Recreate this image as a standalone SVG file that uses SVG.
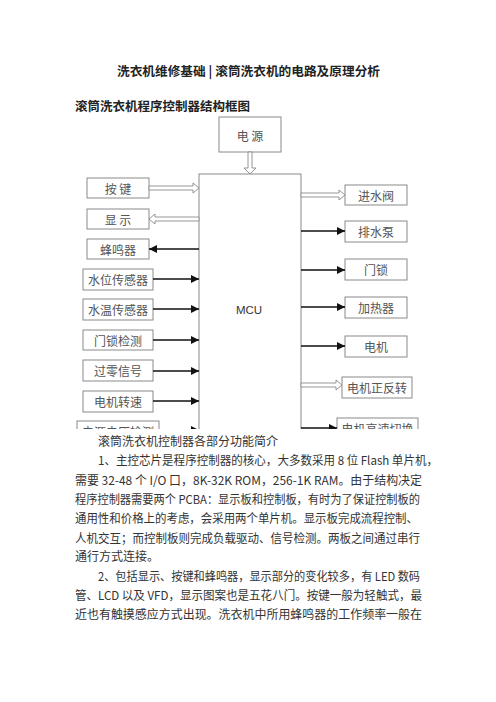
<svg xmlns="http://www.w3.org/2000/svg" width="496" height="702" viewBox="0 0 496 702">
<defs>
<style>
.bx{fill:#fff;stroke:#8a8a8a;stroke-width:1}
.lb{font-family:"Noto Sans CJK SC","Liberation Serif",serif;font-size:12px;fill:#555;text-anchor:middle;dominant-baseline:central}
.mcu{font-family:"Liberation Sans","Noto Sans CJK SC",sans-serif;font-size:11.5px;fill:#333;text-anchor:middle;dominant-baseline:central}
.ho{fill:#fff;stroke:#8a8a8a;stroke-width:0.9}
.so{stroke:#111;stroke-width:1.3;fill:none}
.tt{font-family:"Noto Sans CJK SC","Liberation Sans",sans-serif;font-weight:bold;fill:#222;dominant-baseline:central}
.bd{font-family:"Noto Sans CJK SC","Liberation Sans",sans-serif;font-size:12px;fill:#333;dominant-baseline:central}
</style>
<marker id="ah" viewBox="0 0 10 10" refX="10" refY="5" markerWidth="9" markerHeight="8" markerUnits="userSpaceOnUse" orient="auto"><path d="M0,0L10,5L0,10z" fill="#111"/></marker>
<clipPath id="cut"><rect x="0" y="0" width="496" height="429"/></clipPath>
</defs>
<rect width="496" height="702" fill="#fff"/>
<text class="tt" x="117" y="70" font-size="12.5" textLength="263" lengthAdjust="spacingAndGlyphs">洗衣机维修基础 | 滚筒洗衣机的电路及原理分析</text>
<text class="tt" x="75" y="105" font-size="12.5" textLength="175" lengthAdjust="spacingAndGlyphs">滚筒洗衣机程序控制器结构框图</text>
<g clip-path="url(#cut)">
<g id="n-power"><rect class="bx" x="219" y="117" width="62" height="35"/><text class="lb" x="250" y="135">电 源</text></g>
<g id="n-mcu"><rect class="bx" x="199" y="174" width="102" height="280"/><text class="mcu" x="249" y="310">MCU</text></g>
<g id="n-key"><rect class="bx" x="87" y="178" width="62" height="20"/><text class="lb" x="118" y="188">按 键</text></g>
<g id="n-disp"><rect class="bx" x="87" y="209" width="62" height="20"/><text class="lb" x="118" y="219">显 示</text></g>
<g id="n-buzz"><rect class="bx" x="87" y="239" width="62" height="20"/><text class="lb" x="118" y="249">蜂鸣器</text></g>
<g id="n-wlevel"><rect class="bx" x="83" y="269" width="70" height="21"/><text class="lb" x="118" y="279.5">水位传感器</text></g>
<g id="n-wtemp"><rect class="bx" x="83" y="299" width="70" height="21"/><text class="lb" x="118" y="309.5">水温传感器</text></g>
<g id="n-lockdet"><rect class="bx" x="83" y="330" width="70" height="20"/><text class="lb" x="118" y="340">门锁检测</text></g>
<g id="n-zero"><rect class="bx" x="83" y="360" width="70" height="21"/><text class="lb" x="118" y="370.5">过零信号</text></g>
<g id="n-speed"><rect class="bx" x="83" y="391" width="70" height="21"/><text class="lb" x="118" y="401.5">电机转速</text></g>
<g id="n-volt"><rect class="bx" x="77" y="421" width="82" height="21"/><text class="lb" x="118" y="431.5">电源电压检测</text></g>
<g id="n-inlet"><rect class="bx" x="345" y="185" width="62" height="20"/><text class="lb" x="376" y="195">进水阀</text></g>
<g id="n-pump"><rect class="bx" x="345" y="221" width="62" height="21"/><text class="lb" x="376" y="231.5">排水泵</text></g>
<g id="n-lock"><rect class="bx" x="345" y="259" width="62" height="21"/><text class="lb" x="376" y="269.5">门锁</text></g>
<g id="n-heater"><rect class="bx" x="345" y="297" width="62" height="21"/><text class="lb" x="376" y="307.5">加热器</text></g>
<g id="n-motor"><rect class="bx" x="345" y="336" width="62" height="21"/><text class="lb" x="376" y="346.5">电机</text></g>
<g id="n-dir"><rect class="bx" x="342" y="377" width="70" height="21"/><text class="lb" x="377" y="387.5">电机正反转</text></g>
<g id="n-high"><rect class="bx" x="337" y="418" width="81" height="21"/><text class="lb" x="377.5" y="428.5">电机高速切换</text></g>
<g id="connectors">
<polygon class="ho" points="248,152 252,152 252,168 256,168 250,174 244,168 248,168"/>
<polygon class="ho" points="149,186 193,186 193,183 199,188 193,193 193,190 149,190"/>
<polygon class="ho" points="199,217 155,217 155,214 149,219 155,224 155,221 199,221"/>
<polygon class="ho" points="301,193 339,193 339,190 345,195 339,200 339,197 301,197"/>
<polygon class="ho" points="301,383 336,383 336,380 342,385 336,390 336,387 301,387"/>
<line class="so" x1="199" y1="249" x2="149" y2="249" marker-end="url(#ah)"/>
<line class="so" x1="153" y1="279" x2="199" y2="279" marker-end="url(#ah)"/>
<line class="so" x1="153" y1="309" x2="199" y2="309" marker-end="url(#ah)"/>
<line class="so" x1="153" y1="340" x2="199" y2="340" marker-end="url(#ah)"/>
<line class="so" x1="153" y1="371" x2="199" y2="371" marker-end="url(#ah)"/>
<line class="so" x1="153" y1="401" x2="199" y2="401" marker-end="url(#ah)"/>
<line class="so" x1="159" y1="430" x2="199" y2="430" marker-end="url(#ah)"/>
<line class="so" x1="301" y1="231" x2="345" y2="231" marker-end="url(#ah)"/>
<line class="so" x1="301" y1="270" x2="345" y2="270" marker-end="url(#ah)"/>
<line class="so" x1="301" y1="307" x2="345" y2="307" marker-end="url(#ah)"/>
<line class="so" x1="301" y1="346" x2="345" y2="346" marker-end="url(#ah)"/>
<line class="so" x1="301" y1="428" x2="337" y2="428" marker-end="url(#ah)"/>
</g>
</g>
<text class="bd" x="98" y="440" textLength="180" lengthAdjust="spacingAndGlyphs">滚筒洗衣机控制器各部分功能简介</text>
<text class="bd" x="98" y="459" textLength="340" lengthAdjust="spacingAndGlyphs">1、主控芯片是程序控制器的核心，大多数采用 8 位 Flash 单片机，</text>
<text class="bd" x="75" y="479" textLength="347" lengthAdjust="spacingAndGlyphs">需要 32-48 个 I/O 口，8K-32K ROM，256-1K RAM。由于结构决定</text>
<text class="bd" x="75" y="498" textLength="345" lengthAdjust="spacingAndGlyphs">程序控制器需要两个 PCBA：显示板和控制板，有时为了保证控制板的</text>
<text class="bd" x="75" y="517" textLength="343" lengthAdjust="spacingAndGlyphs">通用性和价格上的考虑，会采用两个单片机。显示板完成流程控制、</text>
<text class="bd" x="75" y="537" textLength="345" lengthAdjust="spacingAndGlyphs">人机交互；而控制板则完成负载驱动、信号检测。两板之间通过串行</text>
<text class="bd" x="75" y="555" textLength="84" lengthAdjust="spacingAndGlyphs">通行方式连接。</text>
<text class="bd" x="98" y="575" textLength="322" lengthAdjust="spacingAndGlyphs">2、包括显示、按键和蜂鸣器，显示部分的变化较多，有 LED 数码</text>
<text class="bd" x="75" y="594" textLength="347" lengthAdjust="spacingAndGlyphs">管、LCD 以及 VFD，显示图案也是五花八门。按键一般为轻触式，最</text>
<text class="bd" x="75" y="613" textLength="347" lengthAdjust="spacingAndGlyphs">近也有触摸感应方式出现。洗衣机中所用蜂鸣器的工作频率一般在</text>
</svg>
